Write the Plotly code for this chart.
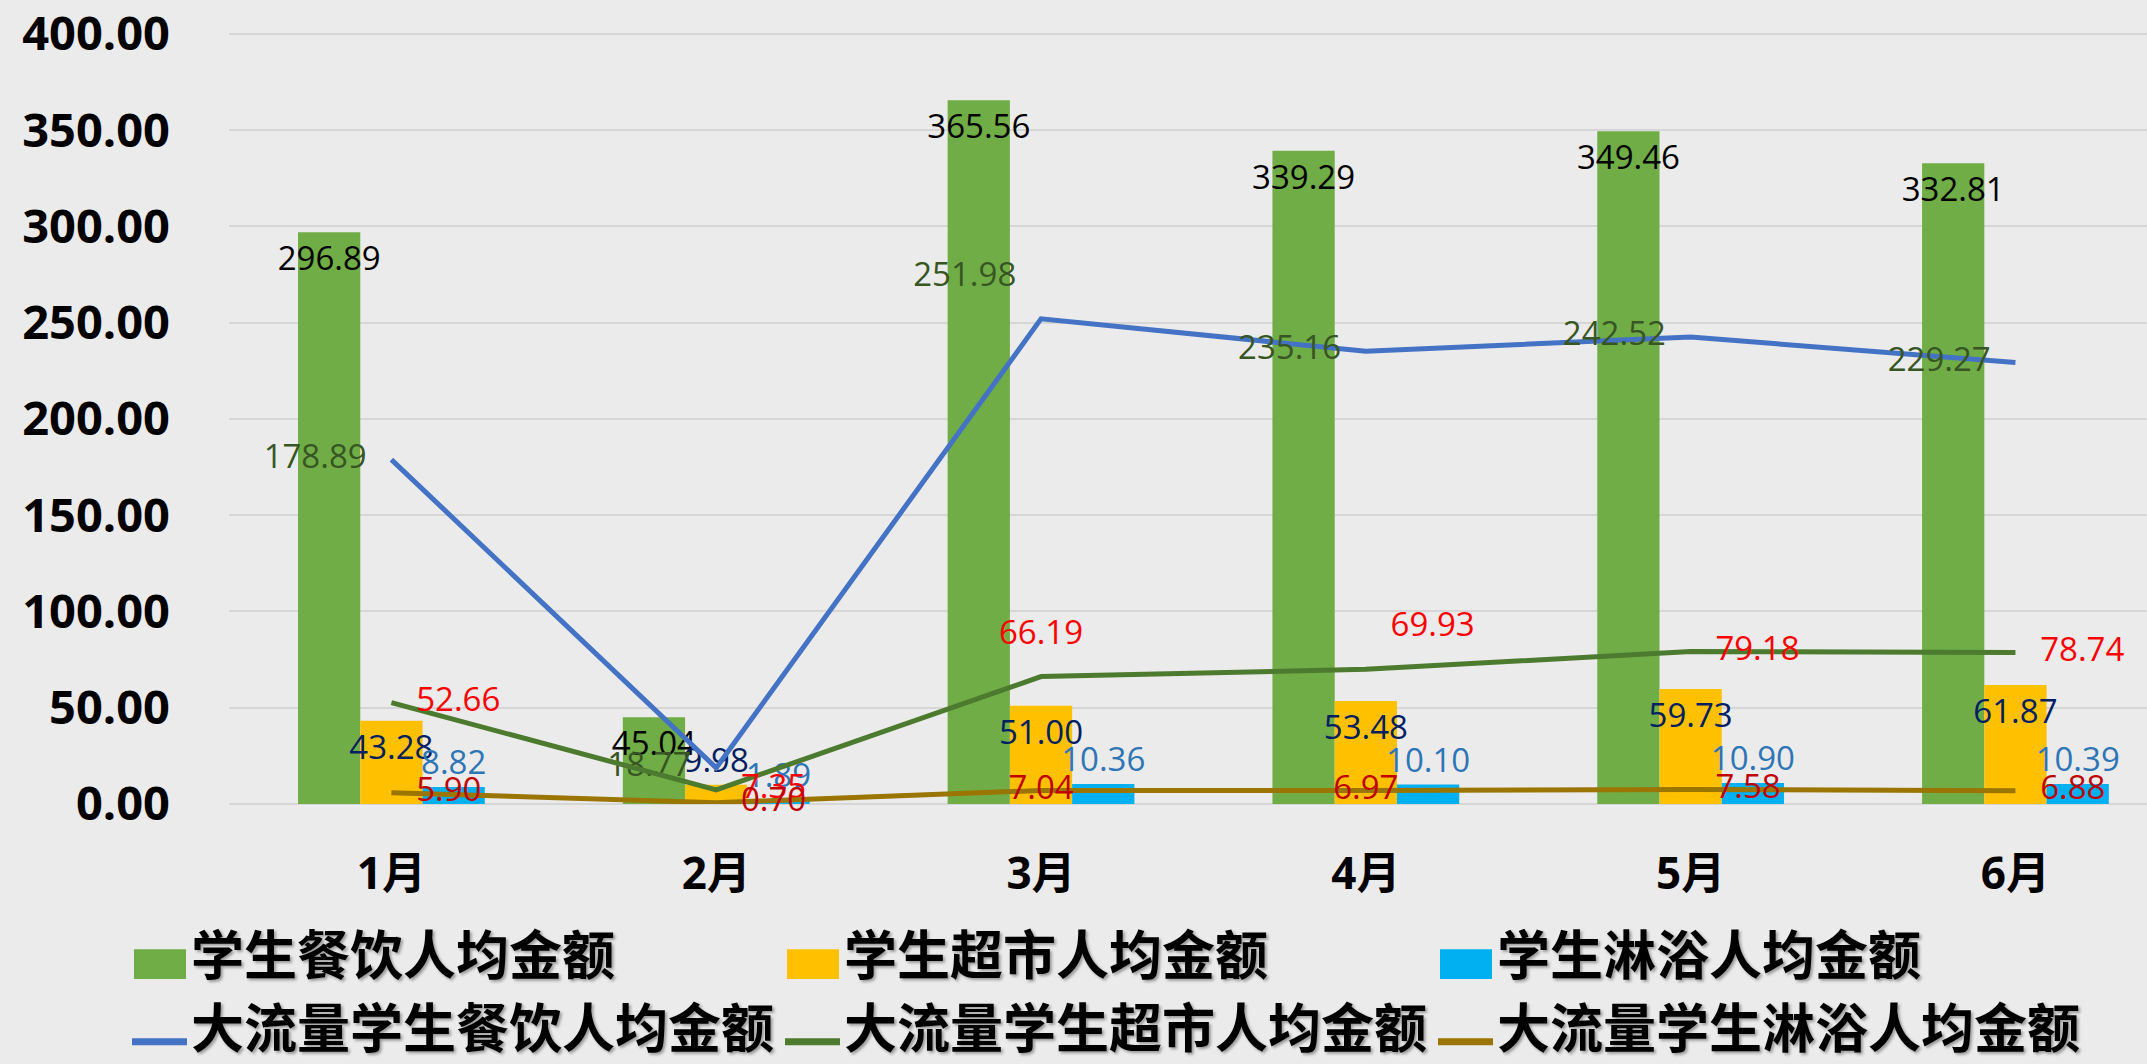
import plotly.graph_objects as go

# ---------------- data ----------------
months = ['1月', '2月', '3月', '4月', '5月', '6月']
canteen = [296.89, 45.04, 365.56, 339.29, 349.46, 332.81]
market = [43.28, 9.98, 51.00, 53.48, 59.73, 61.87]
shower = [8.82, 1.89, 10.36, 10.10, 10.90, 10.39]
hv_canteen = [178.89, 18.77, 251.98, 235.16, 242.52, 229.27]
hv_market = [52.66, 7.35, 66.19, 69.93, 79.18, 78.74]
hv_shower = [5.90, 0.70, 7.04, 6.97, 7.58, 6.88]
series_names = ['学生餐饮人均金额', '学生超市人均金额', '学生淋浴人均金额',
                '大流量学生餐饮人均金额', '大流量学生超市人均金额', '大流量学生淋浴人均金额']
y_ticks = [0, 50, 100, 150, 200, 250, 300, 350, 400]

# ---------------- layout constants ----------------
W, H = 2147, 1064
ML, MR, MT, MB = 229, 0, 0, 260
PW, PH = W - ML - MR, H - MT - MB

def pxx(x):
    return (x - ML) / PW

def pxy(y):
    return (H - MB - y) / PH

bar_colors = ['#70AD47', '#FFC000', '#00B0F0']
line_colors = ['#4472C4', '#4C7A2E', '#9A7500']
LBL_FONT = 'Open Sans'
LBL_SIZE = 33

def fmt(vals):
    return [f'{v:.2f}' for v in vals]

fig = go.Figure()

bar_specs = [
    (canteen, bar_colors[0], '#000000', ['inside'] * 6),
    (market, bar_colors[1], '#002060', ['inside', 'outside', 'inside', 'inside', 'inside', 'inside']),
    (shower, bar_colors[2], '#2E75B6', ['outside'] * 6),
]
for i, (vals, col, tcol, tpos) in enumerate(bar_specs):
    fig.add_trace(go.Bar(
        x=months, y=vals, name=series_names[i],
        marker=dict(color=col, line=dict(width=0)),
        text=fmt(vals), textposition=tpos, insidetextanchor='end',
        textangle=0, constraintext='none', cliponaxis=False,
        textfont=dict(family=LBL_FONT, size=LBL_SIZE, color=tcol),
        showlegend=False,
    ))

line_specs = [
    (hv_canteen, line_colors[0], '#375623',
     ['middle left', 'middle left', 'top left', 'middle left', 'middle left', 'middle left']),
    (hv_market, line_colors[1], '#FF0000',
     ['middle right', 'middle right', 'top center', 'top right', 'middle right', 'middle right']),
    (hv_shower, line_colors[2], '#C00000',
     ['middle right', 'middle right', 'middle center', 'middle center', 'middle right', 'middle right']),
]
for j, (vals, col, tcol, tpos) in enumerate(line_specs):
    fig.add_trace(go.Scatter(
        x=months, y=vals, name=series_names[3 + j],
        mode='lines+markers+text',
        line=dict(color=col, width=5),
        marker=dict(size=38, color='rgba(0,0,0,0)', line=dict(width=0)),
        text=fmt(vals), textposition=tpos,
        textfont=dict(family=LBL_FONT, size=LBL_SIZE, color=tcol),
        cliponaxis=False, showlegend=False,
    ))

# ---------------- custom legend (large keys like the original) ----------------
col_x = [134, 787, 1440]
row1_y, row2_y = 953, 1026
shapes = []
annotations = []
leg_font = dict(family='Noto Sans CJK SC', size=53, color='#000000', weight='bold',
                shadow='2px 2px 3px rgba(0,0,0,0.35)')
for k in range(3):
    x0 = col_x[k]
    shapes.append(dict(type='rect', xref='paper', yref='paper',
                       x0=pxx(x0), x1=pxx(x0 + 52), y0=pxy(980), y1=pxy(950),
                       fillcolor=bar_colors[k], line=dict(width=0)))
    annotations.append(dict(xref='paper', yref='paper', x=pxx(x0 + 55), y=pxy(row1_y),
                            xanchor='left', yanchor='middle', showarrow=False,
                            text=series_names[k], font=leg_font))
    shapes.append(dict(type='line', xref='paper', yref='paper',
                       x0=pxx(x0 - 2), x1=pxx(x0 + 53), y0=pxy(1043), y1=pxy(1043),
                       line=dict(color=line_colors[k], width=7)))
    annotations.append(dict(xref='paper', yref='paper', x=pxx(x0 + 55), y=pxy(row2_y),
                            xanchor='left', yanchor='middle', showarrow=False,
                            text=series_names[3 + k], font=leg_font))

fig.update_layout(
    width=W, height=H,
    margin=dict(l=ML, r=MR, t=MT, b=MB, pad=0),
    paper_bgcolor='#ebebeb', plot_bgcolor='rgba(0,0,0,0)',
    barmode='group', bargap=0.425, bargroupgap=0,
    showlegend=False,
    shapes=shapes, annotations=annotations,
    xaxis=dict(
        type='category', range=[-0.5, 5.405],
        showgrid=False, zeroline=False, showline=False, ticks='',
        tickfont=dict(family='Open Sans, Noto Sans CJK SC', size=44, color='#000000', weight='bold'),
        ticklabelstandoff=40,
    ),
    yaxis=dict(
        range=[0, 415.5], tickvals=y_ticks, tickformat='.2f',
        showgrid=True, gridcolor='#d6d6d6', gridwidth=2,
        zeroline=True, zerolinecolor='#d6d6d6', zerolinewidth=2,
        showline=False, ticks='', ticklabeloverflow='allow',
        tickfont=dict(family='Open Sans', size=47, color='#000000', weight='bold'),
        ticklabelstandoff=58,
    ),
)

fig.write_html('out.html', config={'displayModeBar': False},
               post_script="document.body.style.margin='0';document.body.style.overflow='hidden';")
